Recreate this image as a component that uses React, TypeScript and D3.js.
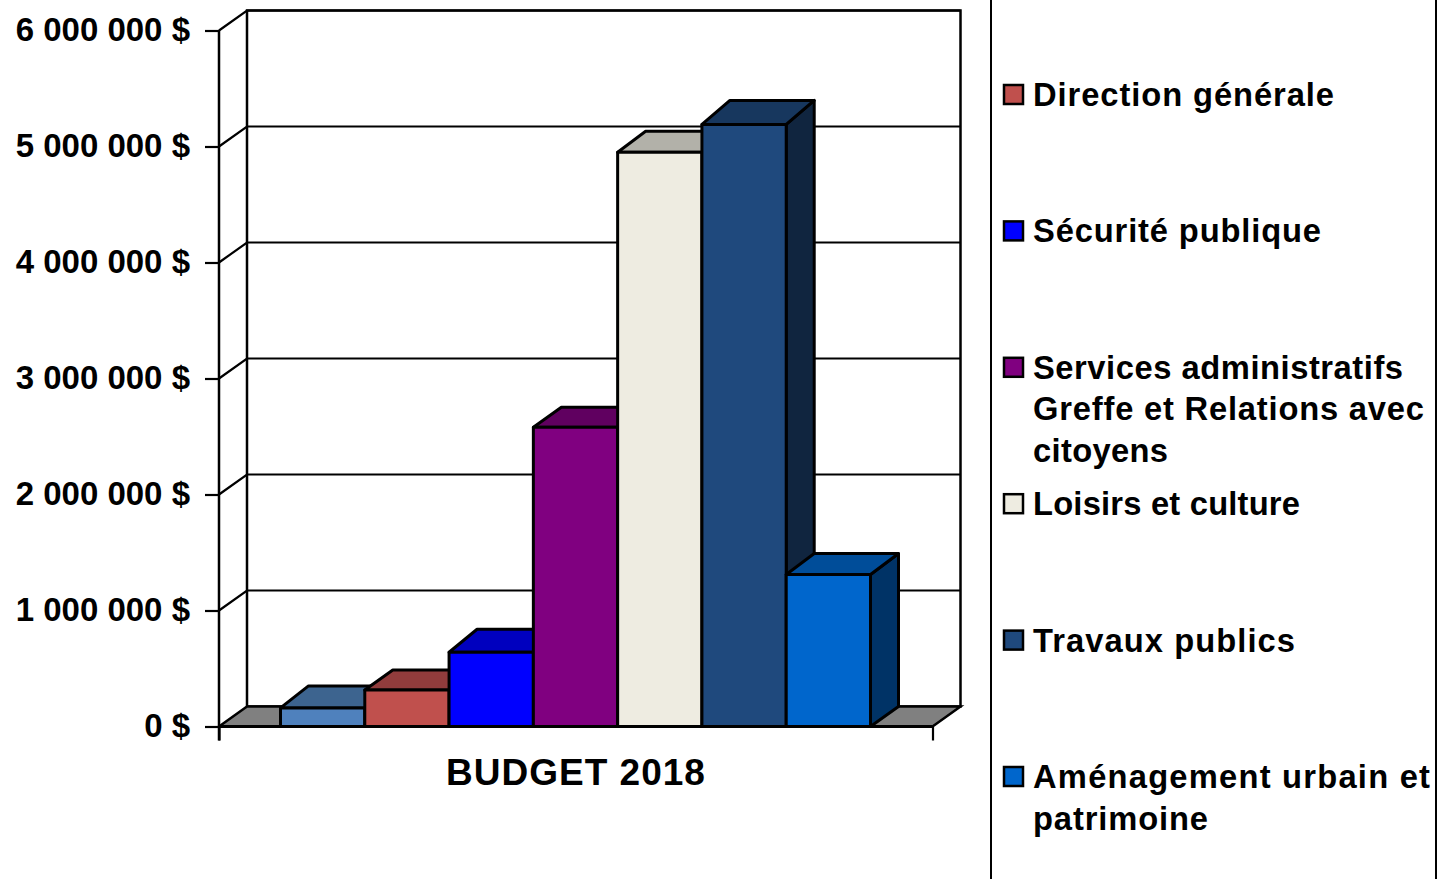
import { useEffect, useRef } from 'react';
import * as d3 from 'd3';

const seriesValues = [160000, 315000, 640000, 2580000, 4950000, 5190000, 1310000];
const frontColors = ['#4f81bd', '#c0504d', '#0000ff', '#800080', '#eeece1', '#1f497d', '#0066cc'];
const topColors = ['#3d648f', '#913c3c', '#0000bf', '#600060', '#b2b1a9', '#17375e', '#004d99'];
const sideColors = ['#2a4563', '#642a28', '#000080', '#400040', '#777671', '#10253f', '#003366'];
const yTicks = [0, 1000000, 2000000, 3000000, 4000000, 5000000, 6000000];
const categoryLabel = 'BUDGET 2018';
const legendLines = [
  ['Direction générale'],
  ['Sécurité publique'],
  ['Services administratifs', 'Greffe et Relations avec', 'citoyens'],
  ['Loisirs et culture'],
  ['Travaux publics'],
  ['Aménagement urbain et', 'patrimoine'],
];
// the first bar has no entry in the legend of the original
const legendColors = frontColors.slice(1);

const FONT = '"Liberation Sans", Arial, sans-serif';

// Rendered widths of the legend lines, the original text is spaced out a bit
const legendWidths = [[301], [288], [370, 391, 135], [267], [262], [397, 175]];
// Height of each bar's top face, it varies by a few pixels in the original
const topDepths = [22, 20, 23, 20, 21, 24, 21];

export default function App() {
  const svgRef = useRef<SVGSVGElement>(null);

  useEffect(() => {
    if (!svgRef.current) return;

    const svg = d3.select(svgRef.current);
    svg.selectAll('*').remove();

    const depth = { x: 28, y: -20 };
    const yScale = d3.scaleLinear().domain([0, 6000000]).range([726.5, 30.5]);
    const floorX = d3.scaleLinear().domain([0, 1]).range([219, 932.5]);
    const xScale = d3
      .scaleBand<number>()
      .domain(d3.range(seriesValues.length))
      .range([280.5, 870.5]);

    const y0 = yScale(0);
    const yTop = yScale(6000000);
    const points = (p: number[][]) => p.map((d) => d.join(',')).join(' ');

    // Back wall
    svg
      .append('rect')
      .attr('x', floorX(0) + depth.x)
      .attr('y', yTop + depth.y)
      .attr('width', floorX(1) - floorX(0))
      .attr('height', y0 - yTop)
      .attr('fill', '#ffffff')
      .attr('stroke', '#000000')
      .attr('stroke-width', 2.5);

    // Floor
    svg
      .append('polygon')
      .attr(
        'points',
        points([
          [floorX(0), y0],
          [floorX(0) + depth.x, y0 + depth.y],
          [floorX(1) + depth.x, y0 + depth.y],
          [floorX(1), y0],
        ])
      )
      .attr('fill', '#808080')
      .attr('stroke', '#000000')
      .attr('stroke-width', 2.5);

    // Grid lines run along the side wall and then the back wall
    svg
      .selectAll('.grid')
      .data(yTicks.slice(1))
      .join('polyline')
      .attr('class', 'grid')
      .attr('points', (d) =>
        points([
          [floorX(0), yScale(d)],
          [floorX(0) + depth.x, yScale(d) + depth.y],
          [floorX(1) + depth.x, yScale(d) + depth.y],
        ])
      )
      .attr('fill', 'none')
      .attr('stroke', '#000000')
      .attr('stroke-width', 2.2);

    // Bars, left to right so each one covers the side of the previous
    const bars = svg
      .selectAll('.bar')
      .data(seriesValues)
      .join('g')
      .attr('class', 'bar')
      .attr('stroke', '#000000')
      .attr('stroke-width', 3)
      .attr('stroke-linejoin', 'round');

    bars
      .append('polygon')
      .attr('fill', (d, i) => sideColors[i])
      .attr('points', (d, i) => {
        const right = xScale(i)! + xScale.bandwidth();
        return points([
          [right, yScale(d)],
          [right + depth.x, yScale(d) - topDepths[i]],
          [right + depth.x, y0 + depth.y],
          [right, y0],
        ]);
      });

    bars
      .append('polygon')
      .attr('fill', (d, i) => topColors[i])
      .attr('points', (d, i) => {
        const left = xScale(i)!;
        const right = left + xScale.bandwidth();
        return points([
          [left, yScale(d)],
          [left + depth.x, yScale(d) - topDepths[i]],
          [right + depth.x, yScale(d) - topDepths[i]],
          [right, yScale(d)],
        ]);
      });

    bars
      .append('rect')
      .attr('x', (d, i) => xScale(i)!)
      .attr('y', (d) => yScale(d))
      .attr('width', xScale.bandwidth())
      .attr('height', (d) => y0 - yScale(d))
      .attr('fill', (d, i) => frontColors[i]);

    // Y axis
    const moneyFormat = d3.formatLocale({
      decimal: ',',
      thousands: ' ',
      grouping: [3],
      currency: ['', ' $'],
    }).format('$,');

    const yAxis = svg
      .append('g')
      .attr('transform', `translate(${floorX(0)}, 0)`)
      .call(
        d3
          .axisLeft(yScale)
          .tickValues(yTicks)
          .tickFormat((d) => moneyFormat(d as number))
          .tickSize(14)
          .tickPadding(15)
      );

    yAxis.selectAll('path, line').attr('stroke', '#000000').attr('stroke-width', 2.2);
    yAxis.select('.domain').attr('d', `M0,${yTop}V${y0 + 14}`).attr('stroke-width', 2.5);
    yAxis
      .selectAll('text')
      .attr('fill', '#000000')
      .attr('y', -1)
      .style('font-family', FONT)
      .style('font-weight', 700)
      .style('font-size', '33px');

    // X axis
    const xAxis = svg
      .append('g')
      .attr('transform', `translate(0, ${y0})`)
      .call(d3.axisBottom(floorX).tickValues([0, 1]).tickSize(14).tickFormat(() => ''));
    xAxis.selectAll('line').attr('stroke', '#000000').attr('stroke-width', 2.2);
    xAxis
      .select('.domain')
      .attr('d', `M${floorX(0)},0H${floorX(1)}`)
      .attr('stroke', '#000000')
      .attr('stroke-width', 3);

    svg
      .append('text')
      .attr('x', 576)
      .attr('y', 785)
      .attr('text-anchor', 'middle')
      .style('font-family', FONT)
      .style('font-weight', 700)
      .style('font-size', '37px')
      .style('letter-spacing', '1px')
      .text(categoryLabel);

    // Legend frame, left and right edges only
    svg
      .selectAll('.frame')
      .data([991, 1436])
      .join('line')
      .attr('class', 'frame')
      .attr('x1', (d) => d)
      .attr('x2', (d) => d)
      .attr('y1', 0)
      .attr('y2', 879)
      .attr('stroke', '#000000')
      .attr('stroke-width', 2);

    const legend = svg
      .selectAll('.legend')
      .data(legendLines)
      .join('g')
      .attr('class', 'legend')
      .attr('transform', (d, i) => `translate(1004, ${94 + i * 136.4})`);

    legend
      .append('rect')
      .attr('y', -9)
      .attr('width', 19)
      .attr('height', 19)
      .attr('fill', (d, i) => legendColors[i])
      .attr('stroke', '#000000')
      .attr('stroke-width', 2.5);

    legend.each(function (lines, row) {
      d3.select(this)
        .selectAll('text')
        .data(lines)
        .join('text')
        .attr('x', 29)
        .attr('y', (d, i) => 12 + i * 41.5)
        .attr('textLength', (d, i) => legendWidths[row][i])
        .attr('lengthAdjust', 'spacing')
        .style('font-family', FONT)
        .style('font-weight', 700)
        .style('font-size', '32.7px')
        .text((d) => d);
    });
  }, []);

  return (
    <svg
      ref={svgRef}
      width={1437}
      height={879}
      style={{ position: 'absolute', left: 0, top: 0, background: '#ffffff' }}
    />
  );
}
